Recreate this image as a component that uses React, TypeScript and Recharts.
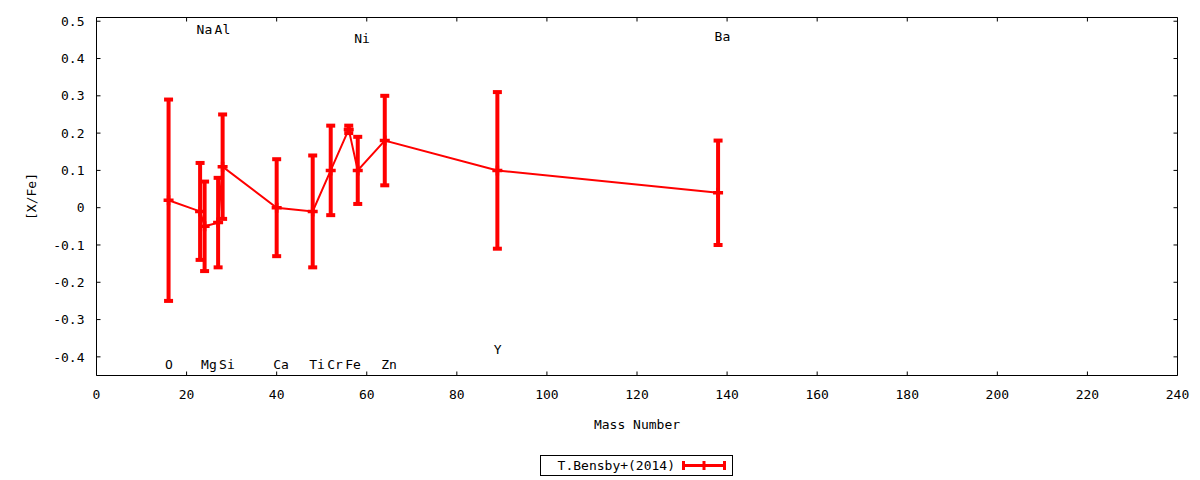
import React from 'react';
import { ComposedChart, Line, ErrorBar, XAxis, YAxis, ReferenceDot, Legend } from 'recharts';

// ---- data ----
const elements = ['O', 'Na', 'Mg', 'Al', 'Si', 'Ca', 'Ti', 'Cr', 'Fe', 'Ni', 'Zn', 'Y', 'Ba'];
const massNumbers = [16, 23, 24, 27, 28, 40, 48, 52, 56, 58, 64, 89, 138];
const xFeValues = [0.02, -0.01, -0.05, -0.04, 0.11, 0.0, -0.01, 0.1, 0.21, 0.1, 0.18, 0.1, 0.04];
const xFeErrors = [0.27, 0.13, 0.12, 0.12, 0.14, 0.13, 0.15, 0.12, 0.01, 0.09, 0.12, 0.21, 0.14];
const labelYPositions = [-0.42, 0.478, -0.42, 0.478, -0.42, -0.42, -0.42, -0.42, -0.42, 0.455, -0.42, -0.38, 0.46];
const xTicks = [0, 20, 40, 60, 80, 100, 120, 140, 160, 180, 200, 220, 240];
const yTicks = [-0.4, -0.3, -0.2, -0.1, 0, 0.1, 0.2, 0.3, 0.4, 0.5];
const xDomain = [0, 240];
const yDomain = [-0.45, 0.51];
const seriesName = 'T.Bensby+(2014)';
const xTitle = 'Mass Number';
const yTitle = '[X/Fe]';

const lineData = elements.map((el, i) => ({
  element: el,
  mass: massNumbers[i],
  value: xFeValues[i],
  err: xFeErrors[i],
}));

const labelData = elements.map((el, i) => ({
  name: el,
  mass: massNumbers[i],
  labelY: labelYPositions[i],
}));

// ---- styles ----
const RED = '#ff0000';
const FONT: React.CSSProperties = { fontFamily: '"DejaVu Sans Mono", monospace', fontSize: 13 };
const TICK_LEN = 4;

const fmtY = (v: number) => (Math.abs(v) < 1e-9 ? '0' : v.toFixed(1));

const BottomTick = (props: any) => {
  const { x, y, payload } = props;
  return (
    <g>
      <line x1={x} y1={y} x2={x} y2={y - TICK_LEN} stroke="#000" strokeWidth={1} />
      <text x={x} y={y + 18.5} dy="0.36em" textAnchor="middle" fill="#000" style={FONT}>
        {payload.value}
      </text>
    </g>
  );
};

const TopTick = (props: any) => {
  const { x, y } = props;
  return <line x1={x} y1={y} x2={x} y2={y + TICK_LEN} stroke="#000" strokeWidth={1} />;
};

const LeftTick = (props: any) => {
  const { x, y, payload } = props;
  return (
    <g>
      <line x1={x} y1={y} x2={x + TICK_LEN} y2={y} stroke="#000" strokeWidth={1} />
      <text x={x - 12} y={y} dy="0.36em" textAnchor="end" fill="#000" style={FONT}>
        {fmtY(payload.value)}
      </text>
    </g>
  );
};

const RightTick = (props: any) => {
  const { x, y } = props;
  return <line x1={x} y1={y} x2={x - TICK_LEN} y2={y} stroke="#000" strokeWidth={1} />;
};

const PlusDot = (props: any) => {
  const { cx, cy, index } = props;
  if (cx == null || cy == null) return <g key={`dot-${index}`} />;
  return (
    <path
      key={`dot-${index}`}
      d={`M${cx - 5},${cy}H${cx + 5}M${cx},${cy - 5}V${cy + 5}`}
      stroke={RED}
      strokeWidth={3.5}
      fill="none"
    />
  );
};

const XTitle = (props: any) => {
  const vb = props.viewBox || {};
  return (
    <text x={vb.x + vb.width / 2} y={vb.y + 48.5} dy="0.36em" textAnchor="middle" fill="#000" style={FONT}>
      {xTitle}
    </text>
  );
};

const YTitle = (props: any) => {
  const vb = props.viewBox || {};
  const cx = vb.x + 31.5;
  const cy = vb.y + vb.height / 2;
  return (
    <text
      x={cx}
      y={cy}
      dy="0.36em"
      textAnchor="middle"
      fill="#000"
      style={FONT}
      transform={`rotate(-90, ${cx}, ${cy})`}
    >
      {yTitle}
    </text>
  );
};

const LegendBox = () => (
  <svg width={194} height={22} style={{ display: 'block' }}>
    <rect x={0.5} y={0.5} width={192} height={20} fill="#fff" stroke="#000" strokeWidth={1} />
    <text x={135} y={10.5} dy="0.36em" textAnchor="end" fill="#000" style={FONT}>
      {seriesName}
    </text>
    <line x1={142} y1={10.5} x2={186} y2={10.5} stroke={RED} strokeWidth={3} />
    <line x1={143.5} y1={6} x2={143.5} y2={15} stroke={RED} strokeWidth={3} />
    <line x1={164} y1={6} x2={164} y2={15} stroke={RED} strokeWidth={3} />
    <line x1={184.5} y1={6} x2={184.5} y2={15} stroke={RED} strokeWidth={3} />
  </svg>
);

export default function App() {
  return (
    <div style={{ position: 'absolute', left: 0, top: 0, width: 1200, height: 480, background: '#fff' }}>
      <ComposedChart
        width={1200}
        height={480}
        data={lineData}
        margin={{ top: 0, right: 0, bottom: 0, left: 0 }}
      >
        <XAxis
          dataKey="mass"
          type="number"
          domain={xDomain}
          ticks={xTicks}
          allowDataOverflow
          height={104.5}
          tickSize={0}
          tickMargin={0}
          tickLine={false}
          axisLine={{ stroke: '#000', strokeWidth: 1 }}
          tick={BottomTick}
          interval={0}
          label={{ content: XTitle }}
        />
        <XAxis
          xAxisId="top"
          orientation="top"
          dataKey="mass"
          type="number"
          domain={xDomain}
          ticks={xTicks}
          allowDataOverflow
          height={17.5}
          tickSize={0}
          tickMargin={0}
          tickLine={false}
          axisLine={{ stroke: '#000', strokeWidth: 1 }}
          tick={TopTick}
          interval={0}
        />
        <YAxis
          type="number"
          domain={yDomain}
          ticks={yTicks}
          allowDataOverflow
          width={96.5}
          tickSize={0}
          tickMargin={0}
          tickLine={false}
          axisLine={{ stroke: '#000', strokeWidth: 1 }}
          tick={LeftTick}
          interval={0}
          label={{ content: YTitle }}
        />
        <YAxis
          yAxisId="right"
          orientation="right"
          type="number"
          domain={yDomain}
          ticks={yTicks}
          allowDataOverflow
          width={22.5}
          tickSize={0}
          tickMargin={0}
          tickLine={false}
          axisLine={{ stroke: '#000', strokeWidth: 1 }}
          tick={RightTick}
          interval={0}
        />
        {labelData.map((d) => (
          <ReferenceDot
            key={`lbl-${d.name}`}
            x={d.mass}
            y={d.labelY}
            r={0}
            ifOverflow="visible"
            shape={(p: any) => (
              <text x={p.cx - 3.5} y={p.cy} dy="0.36em" textAnchor="start" fill="#000" style={FONT}>
                {d.name}
              </text>
            )}
          />
        ))}
        <Line
          type="linear"
          dataKey="value"
          name={seriesName}
          stroke={RED}
          strokeWidth={2}
          dot={PlusDot}
          activeDot={false}
          isAnimationActive={false}
        >
          <ErrorBar
            dataKey="err"
            direction="y"
            width={4.5}
            strokeWidth={4}
            stroke={RED}
            isAnimationActive={false}
          />
        </Line>
        <Legend
          layout="horizontal"
          verticalAlign="middle"
          align="center"
          content={() => <LegendBox />}
          wrapperStyle={{ left: 540, top: 455, width: 194, height: 22 }}
        />
      </ComposedChart>
    </div>
  );
}
